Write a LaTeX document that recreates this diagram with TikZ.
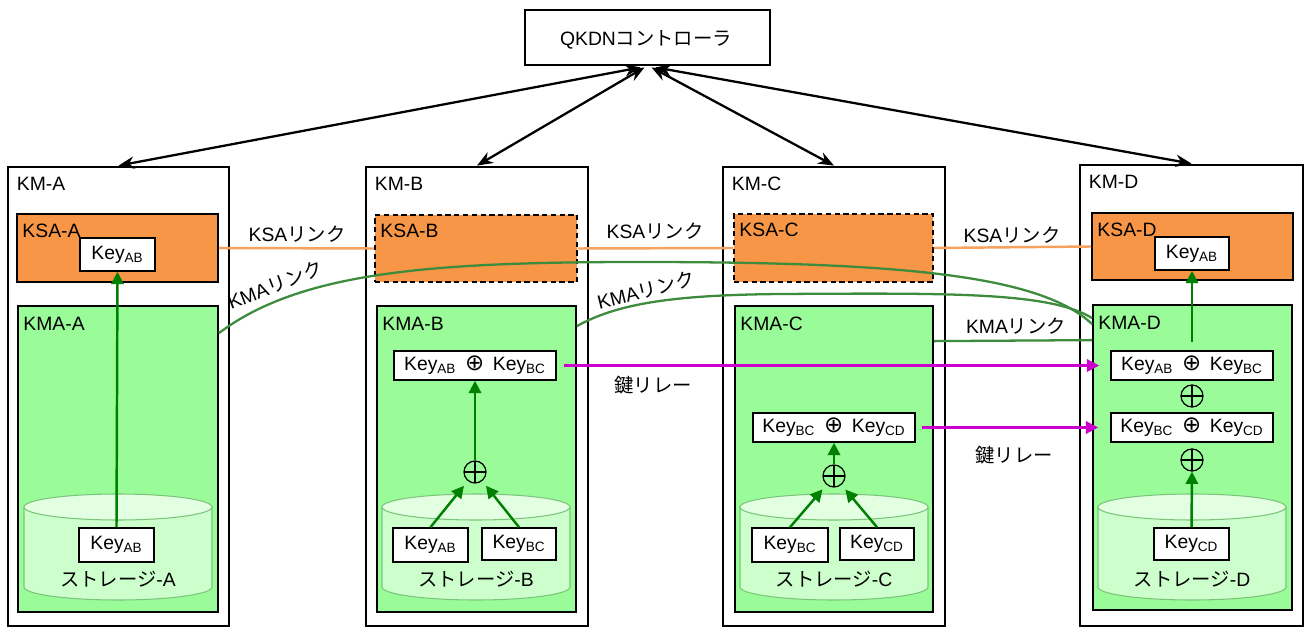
\documentclass[tikz,border=0pt]{standalone}
\usepackage{fontspec}
\setmainfont{Liberation Sans}
\newfontfamily\cjk{Noto Sans CJK JP}
\newfontfamily\dvs{DejaVu Sans}
\usetikzlibrary{fit,calc,arrows.meta}
\newcommand{\jp}[1]{{\cjk #1}}
\newcommand{\ky}[1]{Key\textsubscript{#1}}
\newcommand{\kx}[2]{\ky{#1}\hspace{0.45em}{\dvs\fontsize{13}{13}\selectfont ⊕}\hspace{0.45em}\ky{#2}}
\newcommand{\kbox}[6]{\node[keybox, minimum width={(#4-#2)*0.02cm}, minimum height={(#5-#3)*0.02cm}] (#1) at ({(#2+#4)/2},{(#3+#5)/2}) {#6};}
\definecolor{ksaor}{HTML}{F79646}
\definecolor{ksaline}{HTML}{F6A15E}
\definecolor{kmagreen}{HTML}{99FC99}
\definecolor{stbodyc}{HTML}{CCFFCC}
\definecolor{sttopc}{HTML}{E2FFE2}
\definecolor{ststrokec}{HTML}{7CC47C}
\definecolor{garr}{HTML}{008000}
\definecolor{kmaline}{HTML}{3D8C3D}
\definecolor{relaym}{HTML}{CC00CC}
\newcommand{\stor}[1]{%
  \fill[stbodyc] (#1-94,507) -- (#1-94,587) arc[start angle=180,end angle=0,x radius=94,y radius=13] -- (#1+94,507) -- cycle;
  \draw[ststrokec, line width=0.6pt] (#1-94,507) -- (#1-94,587) arc[start angle=180,end angle=0,x radius=94,y radius=13] -- (#1+94,507);
  \filldraw[fill=sttopc, draw=ststrokec, line width=0.6pt] (#1,507) ellipse[x radius=94, y radius=13];
}
\begin{document}
\begin{tikzpicture}[x=0.02cm,y=-0.02cm,
  every node/.style={font=\fontsize{11}{13}\selectfont},
  kmbox/.style={draw, line width=1.6pt, inner sep=0pt, fill=white},
  ksabox/.style={draw, line width=1pt, fill=ksaor, inner sep=0pt},
  ksadash/.style={ksabox, dash pattern=on 3pt off 2pt},
  kmabox/.style={draw, line width=1pt, fill=kmagreen, inner sep=0pt},
  keybox/.style={draw, line width=0.9pt, fill=white, inner sep=0pt},
  ttl/.style={anchor=west, inner sep=0pt},
  lbl/.style={inner sep=0pt},
  xorc/.style={circle, draw, line width=0.7pt, minimum size=0.44cm, inner sep=0pt,
    path picture={\draw[line width=0.7pt] (path picture bounding box.north) -- (path picture bounding box.south)
      (path picture bounding box.east) -- (path picture bounding box.west);}},
  garrow/.style={draw=garr, line width=1.4pt, -{Triangle[length=7pt,width=7pt]}},
  ctlarrow/.style={line width=1.3pt, {Stealth[length=9pt,width=7pt]}-{Stealth[length=9pt,width=7pt]}},
  ksalink/.style={draw=ksaline, line width=1.4pt},
  kmalink/.style={draw=kmaline, line width=1.3pt},
  relay/.style={draw=relaym, line width=1.3pt, -{Triangle[length=7pt,width=7pt]}}
]
\useasboundingbox (0,0) rectangle (1308,628);

% controller
\node[kmbox, fit={(525,10) (770,65)}] (ctrl) {};
\node[lbl] (ctrltxt) at (646,40) {QKDN\jp{コントローラ}};

% KM boxes
\node[kmbox, fit={(8,167) (229,626)}] (kma) {};
\node[kmbox, fit={(366,167) (588,626)}] (kmb) {};
\node[kmbox, fit={(723,167) (945,626)}] (kmc) {};
\node[kmbox, fit={(1080,165) (1303,626)}] (kmd) {};
\node[ttl] (tkma) at ($(kma.north west)+(10,18)$) {KM-A};
\node[ttl] (tkmb) at ($(kmb.north west)+(10,18)$) {KM-B};
\node[ttl] (tkmc) at ($(kmc.north west)+(10,18)$) {KM-C};
\node[ttl] (tkmd) at ($(kmd.north west)+(10,18)$) {KM-D};

% KSA boxes
\node[ksabox, fit={(17,214) (218,282)}] (ksaa) {};
\node[ksadash, fit={(375,215) (577,282)}] (ksab) {};
\node[ksadash, fit={(734,214) (933,282)}] (ksac) {};
\node[ksabox, fit={(1092,213) (1293,280)}] (ksad) {};
\node[ttl] (tksaa) at ($(ksaa.north west)+(6,18)$) {KSA-A};
\node[ttl] (tksab) at ($(ksab.north west)+(6,17)$) {KSA-B};
\node[ttl] (tksac) at ($(ksac.north west)+(6,17)$) {KSA-C};
\node[ttl] (tksad) at ($(ksad.north west)+(6,18)$) {KSA-D};

% KMA boxes
\node[kmabox, fit={(18,306) (218,612)}] (kmaa) {};
\node[kmabox, fit={(377,306) (576,612)}] (kmab) {};
\node[kmabox, fit={(735,306) (933,612)}] (kmac) {};
\node[kmabox, fit={(1093,305) (1292,610)}] (kmad) {};
\node[ttl] (tkmaa) at ($(kmaa.north west)+(6,19)$) {KMA-A};
\node[ttl] (tkmab) at ($(kmab.north west)+(6,19)$) {KMA-B};
\node[ttl] (tkmac) at ($(kmac.north west)+(6,19)$) {KMA-C};
\node[ttl] (tkmad) at ($(kmad.north west)+(6,19)$) {KMA-D};

% storages
\stor{118}
\stor{476}
\stor{834}
\stor{1192}
\node[lbl] (sta) at (118,579) {\jp{ストレージ}-A};
\node[lbl] (stb) at (476,579) {\jp{ストレージ}-B};
\node[lbl] (stc) at (834,579) {\jp{ストレージ}-C};
\node[lbl] (std) at (1192,579) {\jp{ストレージ}-D};

% key boxes
\kbox{kaa}{80}{238}{155}{271}{\ky{AB}}
\kbox{kas}{79}{528}{154}{562}{\ky{AB}}

\kbox{kbab}{394}{351}{556}{380}{\kx{AB}{BC}}
\kbox{kbs1}{393}{528}{468}{562}{\ky{AB}}
\kbox{kbs2}{482}{528}{556}{560}{\ky{BC}}
\node[xorc] (xb) at (475,472) {};

\kbox{kcbc}{753}{413}{915}{442}{\kx{BC}{CD}}
\kbox{kcs1}{752}{528}{828}{562}{\ky{BC}}
\kbox{kcs2}{840}{528}{914}{560}{\ky{CD}}
\node[xorc] (xc) at (834,476) {};

\kbox{kda}{1155}{237}{1229}{270}{\ky{AB}}
\kbox{kdab}{1111}{351}{1273}{380}{\kx{AB}{BC}}
\node[xorc] (xd1) at (1192,396) {};
\kbox{kdbc}{1111}{413}{1273}{442}{\kx{BC}{CD}}
\node[xorc] (xd2) at (1192,460) {};
\kbox{kds}{1154}{528}{1229}{560}{\ky{CD}}

% green arrows
\draw[garrow] (kas.north) -- (kaa.south);
\draw[garrow, shorten >=0.12cm] (kbs1.north) -- (xb);
\draw[garrow, shorten >=0.12cm] (kbs2.north) -- (xb);
\draw[garrow] (xb) -- (kbab);
\draw[garrow, shorten >=0.12cm] (kcs1.north) -- (xc);
\draw[garrow, shorten >=0.12cm] (kcs2.north) -- (xc);
\draw[garrow] (xc) -- (kcbc);
\draw[garrow] (kds.north) -- (xd2.south);
\draw[garrow, shorten <=0.16cm] (kdab.north) -- (kda.south);

% controller arrows
\draw[ctlarrow] ($(ctrl.south)+(-7,1)$) -- (kma.north);
\draw[ctlarrow] ($(ctrl.south)+(-3,1)$) -- (kmb.north);
\draw[ctlarrow] ($(ctrl.south)+(4,1)$) -- (kmc.north);
\draw[ctlarrow] ($(ctrl.south)+(8,1)$) -- (kmd.north);

% KSA links
\draw[ksalink] (ksaa.east) -- (ksab.west);
\draw[ksalink] (ksab.east) -- (ksac.west);
\draw[ksalink] (ksac.east) -- (ksad.west);
\node[lbl] (lksa1) at (297,234) {KSA\jp{リンク}};
\node[lbl] (lksa2) at (655,231) {KSA\jp{リンク}};
\node[lbl] (lksa3) at (1012,235) {KSA\jp{リンク}};

% KMA links
\draw[kmalink] ($(kmaa.north east)+(0,28)$) .. controls (300,272) and (430,262) .. (640,262)
  .. controls (900,262) and (1040,275) .. ($(kmad.north west)+(0,20)$);
\draw[kmalink] ($(kmab.north east)+(0,21)$) .. controls (620,302) and (680,295) .. (780,294)
  .. controls (950,293) and (1050,292) .. ($(kmad.north west)+(0,14)$);
\draw[kmalink] ($(kmac.north east)+(0,36)$) -- ($(kmad.north west)+(0,36)$);
\node[lbl, rotate=21] (lkma1) at (275,285) {KMA\jp{リンク}};
\node[lbl, rotate=14] (lkma2) at (646,290) {KMA\jp{リンク}};
\node[lbl] (lkma3) at (1016,326) {KMA\jp{リンク}};

% key relay
\draw[relay, shorten <=0.14cm, shorten >=0.22cm] (kbab.east) -- (kdab.west);
\draw[relay, shorten <=0.12cm, shorten >=0.24cm] (kcbc.east) -- (kdbc.west);
\node[lbl] (lrel1) at (653,385) {\jp{鍵リレー}};
\node[lbl] (lrel2) at (1014,455) {\jp{鍵リレー}};
\end{tikzpicture}
\end{document}
